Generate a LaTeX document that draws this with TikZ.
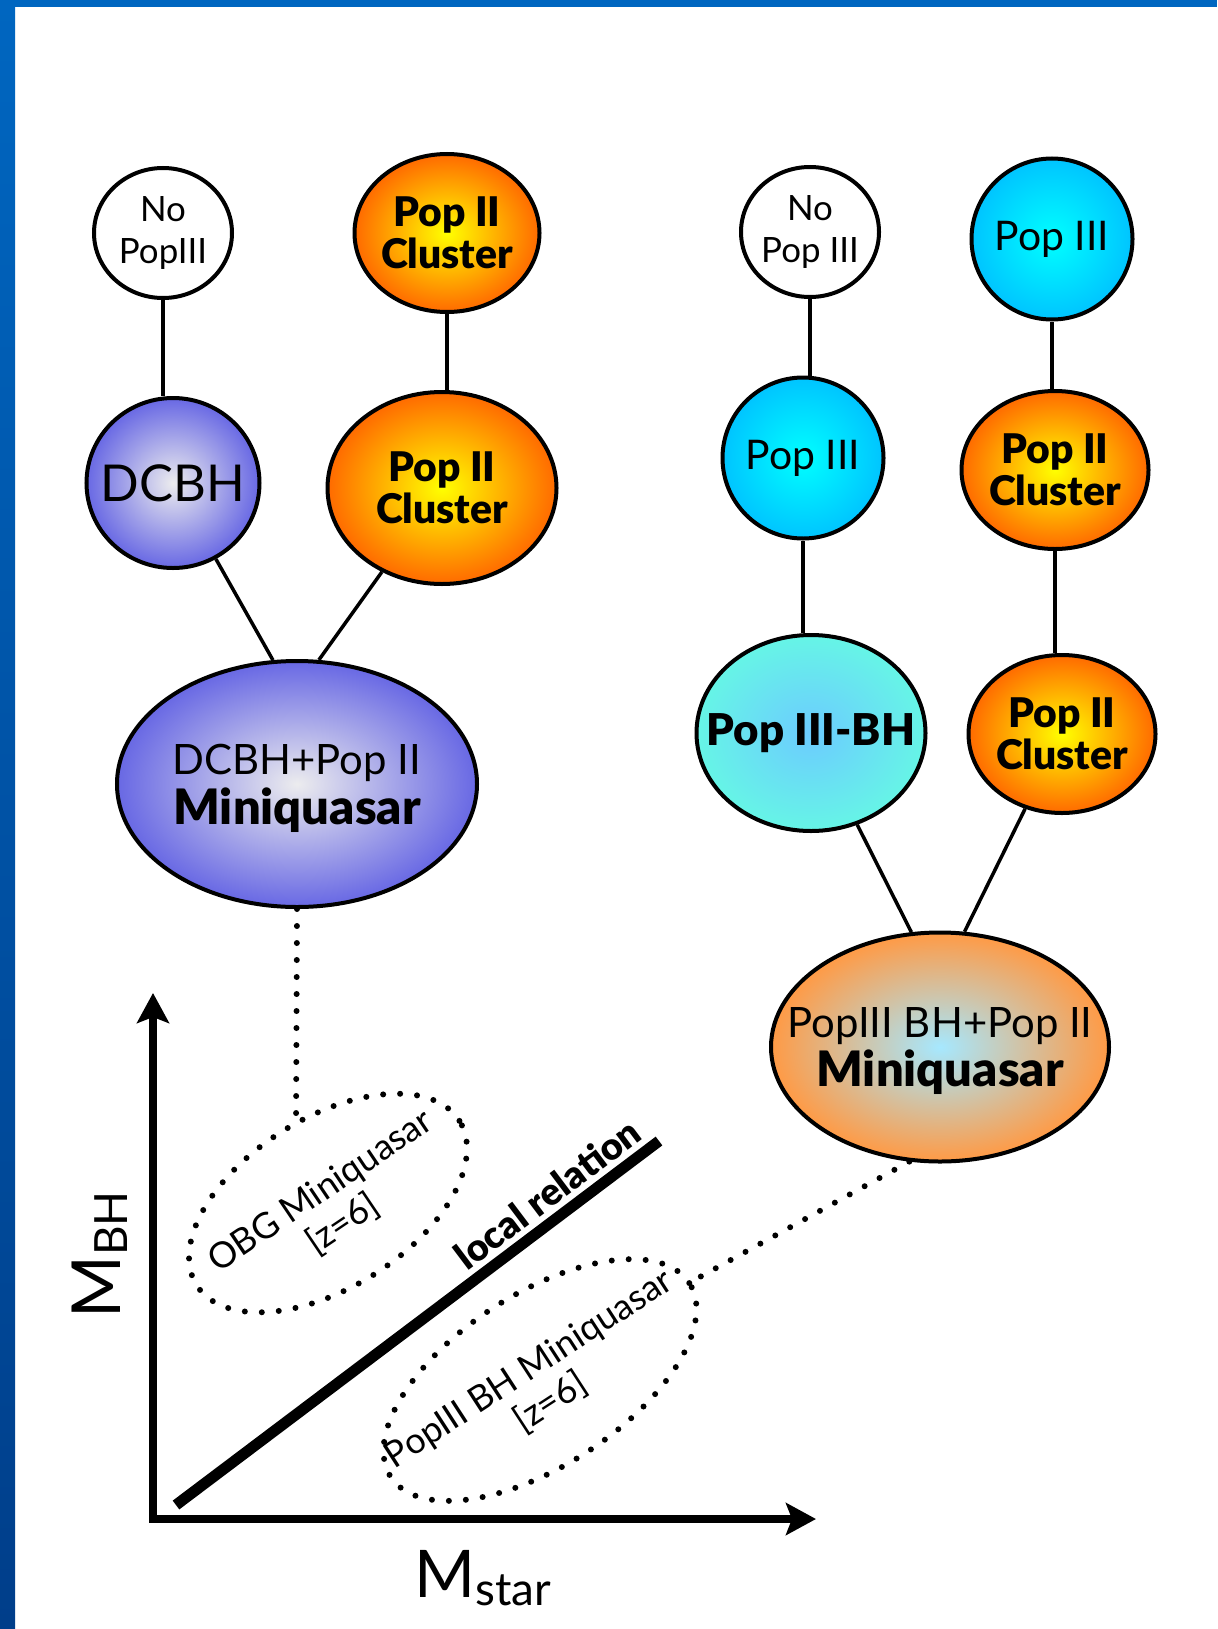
\documentclass[tikz,border=0pt]{standalone}
\usepackage{fontspec}
\setmainfont{Lato}[BoldFont={Lato Black}]
\usetikzlibrary{arrows.meta,shapes.geometric,positioning,calc}

\definecolor{slideblue}{HTML}{0066C0}
\definecolor{slidedark}{HTML}{003E8A}
\definecolor{dcbhedge}{HTML}{6868E4}
\definecolor{dcbhcore}{HTML}{ECECEE}
\definecolor{clusteredge}{HTML}{FF6A00}
\definecolor{clustercore}{HTML}{FFFF00}
\definecolor{popedge}{HTML}{00C4FF}
\definecolor{popcore}{HTML}{00FFFF}
\definecolor{bhedge}{HTML}{66F5E6}
\definecolor{bhcore}{HTML}{6CCBFF}
\definecolor{mqedge}{HTML}{FF9A45}
\definecolor{mqcore}{HTML}{A6E8FF}

\begin{document}
\begin{tikzpicture}[
  x=1bp, y=-1bp,
  >={Stealth[length=30bp,width=32bp,inset=6bp]},
  txt/.style={align=center, inner sep=0pt},
  say/.style n args={2}{label={[txt,#1]center:#2}},
  fnopop/.style={font=\fontsize{35}{42}\selectfont},
  fclus/.style={font=\bfseries\fontsize{41}{42}\selectfont},
  fpop/.style={font=\fontsize{41}{44}\selectfont},
  fseed/.style={font=\fontsize{51}{56}\selectfont},
  fbh/.style={font=\bfseries\fontsize{44}{46}\selectfont},
  fmq/.style={font=\fontsize{42}{50}\selectfont, yshift=-4bp},
  halo/.style={ellipse, draw=black, line width=4bp, inner sep=0pt},
  nopop/.style={halo, fill=white, minimum width=138bp, minimum height=130bp},
  cluster/.style={halo, inner color=clustercore, outer color=clusteredge},
  popthree/.style={halo, inner color=popcore, outer color=popedge,
                   minimum width=161bp, minimum height=161bp},
  seed/.style={halo, inner color=dcbhcore, outer color=dcbhedge},
  link/.style={draw=black, line width=3.5bp},
  dotline/.style={draw=black, line width=6bp, line cap=round,
                  dash pattern=on 0bp off 17bp},
  cloud/.style={ellipse, dotline, inner sep=0pt},
  cloudtxt/.style={txt, font=\fontsize{36}{40}\selectfont},
  axis/.style={draw=black, line width=7.5bp},
]
% slide background and frame
\fill[white] (0,0) rectangle (1217,1629);
\useasboundingbox (0,0) rectangle (1217,1629);
\shade[top color=slideblue, bottom color=slidedark] (0,0) rectangle (15,1629);
\fill[slideblue] (0,0) rectangle (1217,7);

% left tree
\node[nopop, say={fnopop}{No\\PopIII}] (nopopL) at (163,233) {};
\node[cluster, minimum width=185bp, minimum height=158bp, say={fclus}{Pop II\\Cluster}] (clusterA) at (447,233) {};
\node[seed, minimum width=173bp, minimum height=170bp, say={fseed}{DCBH}] (dcbh) at (173,483) {};
\node[cluster, minimum width=229bp, minimum height=192bp, say={fclus}{Pop II\\Cluster}] (clusterB) at (442,488) {};
\node[seed, minimum width=360bp, minimum height=246bp,
      say={fmq}{DCBH+Pop II\\\textbf{\fontsize{49}{50}\selectfont Miniquasar}}] (mqA) at (297,784) {};

% right tree
\node[nopop, say={fnopop}{No\\Pop III}] (nopopR) at (810,232) {};
\node[popthree, say={fpop}{Pop III}] (popA) at (1052,239) {};
\node[popthree, say={fpop}{Pop III}] (popB) at (803,458) {};
\node[cluster, minimum width=187bp, minimum height=158bp, say={fclus}{Pop II\\Cluster}] (clusterC) at (1055,470) {};
\node[halo, inner color=bhcore, outer color=bhedge, minimum width=229bp, minimum height=196bp,
      say={fbh}{Pop III-BH}] (popbh) at (811,733) {};
\node[cluster, minimum width=187bp, minimum height=158bp, say={fclus}{Pop II\\Cluster}] (clusterD) at (1062,734) {};
\node[halo, inner color=mqcore, outer color=mqedge, minimum width=338bp, minimum height=229bp,
      say={fmq}{PopIII BH+Pop II\\\textbf{\fontsize{49}{50}\selectfont Miniquasar}}] (mqB) at (940,1047) {};

\draw[link] (nopopL.south) -- (nopopL.south |- dcbh.north);
\draw[link] (clusterA.south) -- (clusterA.south |- clusterB.north);
\draw[link] (dcbh) -- (mqA.101);
\draw[link] (clusterB) -- (mqA.80);

\draw[link] (nopopR.south) -- (nopopR.south |- popB.north);
\draw[link] (popA.south) -- (popA.south |- clusterC.north);
\draw[link] (popB.south) -- (popB.south |- popbh.north);
\draw[link] (clusterC.south) -- (clusterC.south |- clusterD.north);
\draw[link] (popbh) -- (mqB.104);
\draw[link] (clusterD) -- (mqB.78);

% mass plane
\coordinate (orig) at (153,1519);
\coordinate (ytip) at (153,993);
\coordinate (xtip) at (816,1519);
\draw[axis,<->] (ytip) |- (xtip);
\node[rotate=90, font=\fontsize{68}{70}\selectfont] (mbh) at (100,1255)
  {M\raisebox{-0.1em}{\fontsize{46}{46}\selectfont BH}};
\node[font=\fontsize{66}{70}\selectfont] (mstar) at (483,1578)
  {M\raisebox{-0.12em}{\fontsize{46}{46}\selectfont star}};

\coordinate (relA) at (176,1505);
\coordinate (relB) at (659,1141);
\draw[line width=11bp] (relA) -- node[sloped, above=2bp, pos=0.8,
  font=\bfseries\fontsize{38}{40}\selectfont] (rellbl) {local relation} (relB);

\node[cloud, rotate=32, minimum width=310bp, minimum height=170bp] (obg) at (328,1203) {};
\node[cloudtxt, rotate=34] (obgtxt) at (332,1208) {OBG Miniquasar\\{}[z=6]};
\node[cloud, rotate=33, minimum width=356bp, minimum height=172bp] (bhcloud) at (540,1380) {};
\node[cloudtxt, rotate=33] (bhtxt) at (540,1386) {PopIII BH Miniquasar\\{}[z=6]};

\draw[dotline] (mqA.south) -- (obg.79);
\draw[dotline] (mqB.255) -- (bhcloud.east);
\end{tikzpicture}
\end{document}
